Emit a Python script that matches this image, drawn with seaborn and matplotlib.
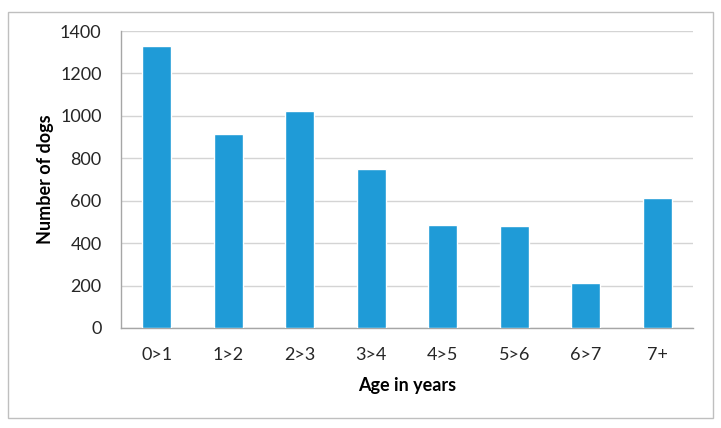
import matplotlib
matplotlib.use("Agg")
import matplotlib.pyplot as plt
import seaborn as sns
import pandas as pd
from matplotlib.patches import Rectangle

categories = ["0>1", "1>2", "2>3", "3>4", "4>5", "5>6", "6>7", "7+"]
counts = [1327, 913, 1025, 750, 486, 479, 210, 612]

sns.set_theme(style="white")
plt.rcParams['font.family'] = ['Lato', 'DejaVu Sans']

df = pd.DataFrame({"age": categories, "dogs": counts})

fig = plt.figure(figsize=(7.21, 4.28), dpi=100)
ax = fig.add_axes([121/721, 1 - 328/428, (693-121)/721, (328-31)/428])

sns.barplot(data=df, x="age", y="dogs", color="#1f9bd7", width=0.4,
            saturation=1, ax=ax, zorder=3)

ax.set_ylim(0, 1400)
ax.set_xlim(-0.5, len(categories) - 0.5)
ax.set_yticks(range(0, 1401, 200))
ax.yaxis.grid(True, color="#d4d4d4", linewidth=1, zorder=0)
ax.set_axisbelow(True)

for s in ["top", "right"]:
    ax.spines[s].set_visible(False)
for s in ["left", "bottom"]:
    ax.spines[s].set_color("#a6a6a6")
    ax.spines[s].set_linewidth(1)

ax.tick_params(axis="x", which="major", length=0, pad=14, labelsize=13, colors="#262626")
ax.set_xticks([i - 0.5 for i in range(len(categories) + 1)], minor=True)
ax.tick_params(axis="x", which="minor", length=5, width=1, color="#a6a6a6", direction="out")
ax.tick_params(axis="y", length=0, pad=14, labelsize=13, colors="#262626")

ax.set_xlabel("Age in years", fontsize=13, fontweight="bold", color="#000000", labelpad=10)
ax.set_ylabel("Number of dogs", fontsize=13, fontweight="bold", color="#000000", labelpad=4)

fig.patches.append(Rectangle((8/721, 1 - 418/428), (713-8)/721, (418-12)/428,
                             transform=fig.transFigure, fill=False,
                             edgecolor="#bfbfbf", linewidth=1))

fig.savefig("out.png", dpi=100)
